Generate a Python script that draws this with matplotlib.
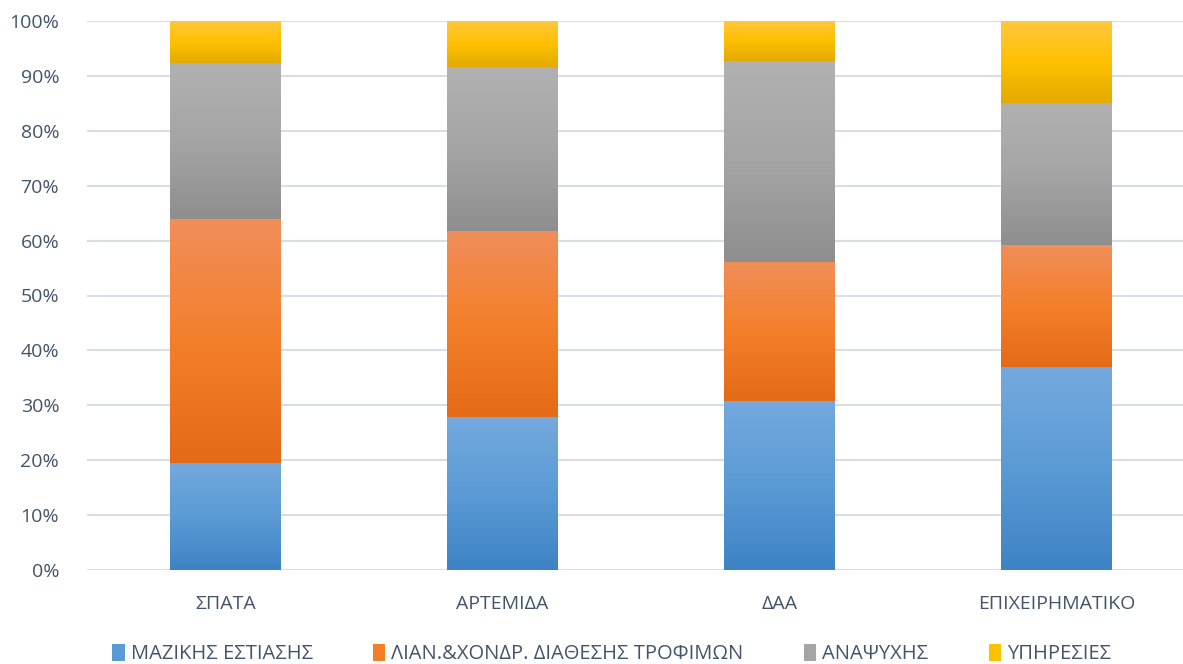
import numpy as np
import matplotlib.pyplot as plt
from matplotlib.colors import to_rgb
from matplotlib.patches import Patch
from matplotlib.ticker import PercentFormatter

plt.rcParams['font.family'] = ['Open Sans', 'DejaVu Sans']

categories = ['ΣΠΑΤΑ', 'ΑΡΤΕΜΙΔΑ', 'ΔΑΑ', 'ΕΠΙΧΕΙΡΗΜΑΤΙΚΟ']
series_names = ['ΜΑΖΙΚΗΣ ΕΣΤΙΑΣΗΣ', 'ΛΙΑΝ.&ΧΟΝΔΡ. ΔΙΑΘΕΣΗΣ ΤΡΟΦΙΜΩΝ', 'ΑΝΑΨΥΧΗΣ', 'ΥΠΗΡΕΣΙΕΣ']
mazikis = [19.5, 27.9, 30.8, 37.0]
lianikis = [44.4, 33.8, 25.3, 22.2]
anapsyxis = [28.4, 29.9, 36.6, 25.9]
ypiresies = [7.7, 8.4, 7.3, 14.9]

# top, middle, bottom stops of each column gradient
gradients = [
    ('#74a9de', '#5b9bd5', '#3d83c5'),
    ('#f08e5a', '#f47f2b', '#e46a16'),
    ('#b1b1b1', '#a5a5a5', '#8e8e8e'),
    ('#ffc83f', '#ffc000', '#e3ab00'),
]
text_color = '#44546a'

fig = plt.figure(figsize=(11.83, 6.64), dpi=100)
ax = fig.add_axes([87 / 1183, 94 / 664, 1108 / 1183, 549 / 664])

x = np.arange(len(categories))
width = 0.4
bottom = np.zeros(len(categories))


def gradient_image(top, mid, bot, n=256):
    t = np.linspace(0, 1, n)[:, None]
    c0, c1, c2 = (np.array(to_rgb(c)) for c in (top, mid, bot))
    upper = c0 + (c1 - c0) * np.clip(t * 2, 0, 1)
    lower = c1 + (c2 - c1) * np.clip(t * 2 - 1, 0, 1)
    img = np.where(t < 0.5, upper, lower)
    return img[:, None, :]


for vals, stops in zip([mazikis, lianikis, anapsyxis, ypiresies], gradients):
    bars = ax.bar(x, vals, width, bottom=bottom, facecolor='none', edgecolor='none', zorder=2)
    img = gradient_image(*stops)
    for p in bars.patches:
        x0, y0 = p.get_x(), p.get_y()
        ax.imshow(img, extent=[x0, x0 + p.get_width(), y0, y0 + p.get_height()],
                  aspect='auto', origin='upper', zorder=2, interpolation='bilinear')
    bottom += np.array(vals)

ax.set_xlim(-0.5, len(categories) - 0.5)
ax.set_ylim(0, 100)
ax.set_yticks(np.arange(0, 101, 10))
ax.yaxis.set_major_formatter(PercentFormatter(decimals=0))
ax.set_xticks(x)
ax.set_xticklabels(categories)
ax.grid(axis='y', color='#d9dde5', linewidth=1.5, zorder=0)
ax.set_axisbelow(True)
for s in ax.spines.values():
    s.set_visible(False)
ax.tick_params(axis='both', length=0, labelsize=14, labelcolor=text_color)
ax.tick_params(axis='y', pad=20)
ax.tick_params(axis='x', pad=18)

handles = [Patch(facecolor=g[1], edgecolor='none') for g in gradients]
fig.legend(handles, series_names, loc='lower center', ncol=4, frameon=False,
           bbox_to_anchor=(0.517, -0.028), fontsize=14.5, labelcolor=text_color,
           handlelength=0.6, handleheight=0.9, handletextpad=0.3, columnspacing=3.0)

fig.savefig('out.png', dpi=100)
